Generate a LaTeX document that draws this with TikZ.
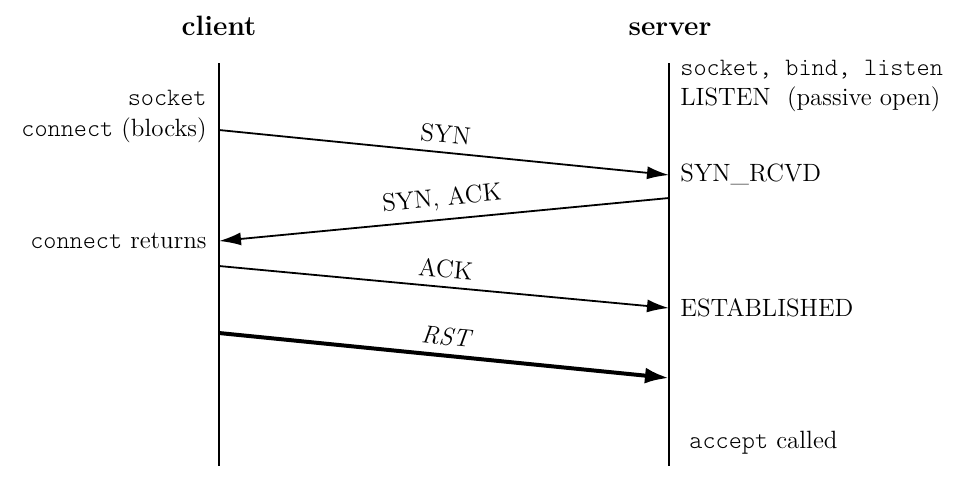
\documentclass[tikz,border=0pt]{standalone}
\usepackage{fontspec}
\setmonofont{Latin Modern Mono Light}
\usetikzlibrary{arrows.meta}
\begin{document}
\begin{tikzpicture}[x=0.5pt,y=-0.5pt,
  txt/.style={font=\fontsize{12.5}{15}\selectfont, inner sep=0pt},
  head/.style={font=\fontsize{14}{16}\selectfont\bfseries, inner sep=0pt},
  life/.style={line width=1pt},
  msg/.style={line width=0.9pt, -{Latex[length=11pt,width=6.5pt]}},
  rst/.style={line width=2pt, -{Latex[length=12pt,width=8pt]}},
  lbl/.style={txt, sloped, above=4pt, pos=0.5}]
\newcommand{\mtt}[1]{{\fontsize{12.5}{15}\selectfont\ttfamily #1}}
\fill[white] (0,0) rectangle (967,478);
\useasboundingbox (0,0) rectangle (967,478);
% headers
\node[head, anchor=base] (client) at (219,35) {client};
\node[head, anchor=base] (server) at (670,35) {server};
% lifelines
\coordinate (ctop) at (219,63);
\coordinate (cbot) at (219,466);
\coordinate (stop) at (669,63);
\coordinate (sbot) at (669,466);
\draw[life] (ctop) -- (cbot);
\draw[life] (stop) -- (sbot);
% message end points
\coordinate (c1) at (219,130);
\coordinate (s1) at (669,175);
\coordinate (s2) at (669,198);
\coordinate (c2) at (219,241);
\coordinate (c3) at (219,266);
\coordinate (s3) at (669,308);
\coordinate (c4) at (219,333);
\coordinate (s4) at (669,378);
% messages
\draw[msg] (c1) -- node[lbl] (syn) {SYN} (s1);
\draw[msg] (s2) -- node[lbl] (synack) {SYN, ACK} (c2);
\draw[msg] (c3) -- node[lbl] (ack) {ACK} (s3);
\draw[rst] (c4) -- node[lbl] (rstl) {\itshape RST} (s4);
% client labels
\node[txt, anchor=east] (csock) at (207,98) {\mtt{socket}};
\node[txt, anchor=east] (cconn) at (207,130) {\mtt{connect} (blocks)};
\node[txt, anchor=east] (cret) at (207,241) {\mtt{connect} returns};
% server labels
\node[txt, anchor=west] (ssock) at (680,70) {\mtt{socket, bind, listen}};
\node[txt, anchor=west] (slisten) at (680,99) {LISTEN\ \ (passive open)};
\node[txt, anchor=west] (srcvd) at (680,174) {SYN\_RCVD};
\node[txt, anchor=west] (sest) at (680,308) {ESTABLISHED};
\node[txt, anchor=west] (sacc) at (689,443) {\mtt{accept} called};
\end{tikzpicture}
\end{document}
